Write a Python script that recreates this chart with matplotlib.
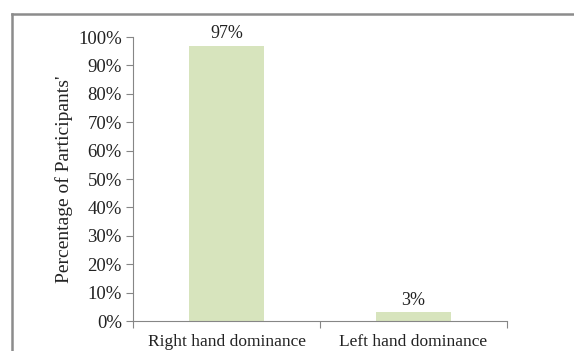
import matplotlib
matplotlib.use("Agg")
import matplotlib.pyplot as plt
from matplotlib.lines import Line2D
from matplotlib.ticker import FixedLocator, PercentFormatter

categories = ['Right hand dominance', 'Left hand dominance']
values = [97, 3]
yticks = list(range(0, 101, 10))

plt.rcParams['font.family'] = ['Liberation Serif', 'DejaVu Serif']

fig = plt.figure(figsize=(5.74, 3.51), dpi=100)
ax = fig.add_axes([133 / 574, 30 / 351, (507 - 133) / 574, (321 - 37) / 351])

x = list(range(len(categories)))
bars = ax.bar(x, values, width=0.4, color='#d7e4bd')
for b, v in zip(bars, values):
    ax.text(b.get_x() + b.get_width() / 2, v + 1.2, f'{v}%', ha='center', va='bottom',
            fontsize=13, color='#222222')

ax.set_xlim(-0.5, len(categories) - 0.5)
ax.set_ylim(0, 100)
ax.set_yticks(yticks)
ax.yaxis.set_major_formatter(PercentFormatter(decimals=0))

# category boundaries get ticks, centres get the labels
ax.xaxis.set_major_locator(FixedLocator([i - 0.5 for i in range(len(categories) + 1)]))
ax.xaxis.set_major_formatter(plt.NullFormatter())
ax.xaxis.set_minor_locator(FixedLocator(x))
ax.set_xticklabels(categories, minor=True)
ax.tick_params(axis='x', which='minor', length=0, pad=9, labelsize=12.5, labelcolor='#222222')
ax.tick_params(axis='x', which='major', length=5, color='#868686')
ax.tick_params(axis='y', length=5, color='#868686', labelsize=13.5, labelcolor='#222222', pad=3)

for s in ['top', 'right']:
    ax.spines[s].set_visible(False)
for s in ['left', 'bottom']:
    ax.spines[s].set_color('#868686')

ax.set_ylabel("Percentage of Participants'", fontsize=14, color='#222222', labelpad=4)

# outer frame, only top and left edges fall inside the picture
fy = 1 - 14 / 351
fx = 11.5 / 574
fig.add_artist(Line2D([fx, fx], [0, fy], transform=fig.transFigure, color='#8c8c8c', lw=1.8))
fig.add_artist(Line2D([fx, 1], [fy, fy], transform=fig.transFigure, color='#8c8c8c', lw=1.8))

fig.savefig('out.png', dpi=100)
